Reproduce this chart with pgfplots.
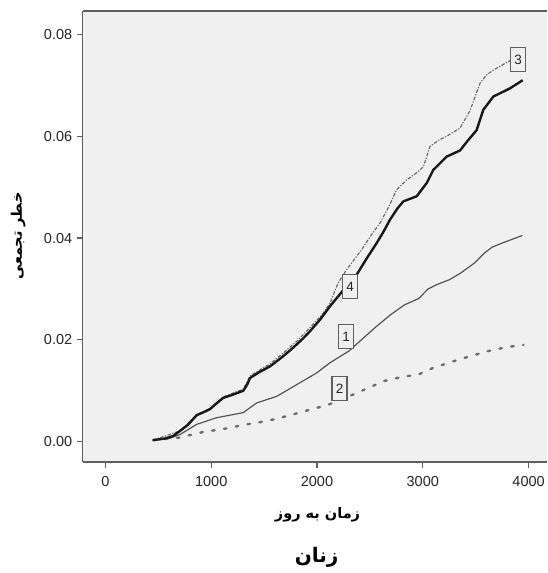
\documentclass[border=0pt]{standalone}
\usepackage{fontspec}
\setmainfont{Liberation Sans}
\newfontfamily\arabicfont[Script=Arabic]{DejaVu Sans}
\TeXXeTstate=1
\usepackage{pgfplots}
\pgfplotsset{compat=1.18}
\definecolor{bg}{RGB}{240,240,240}
\definecolor{frame}{RGB}{95,95,95}
\definecolor{c1}{RGB}{85,85,85}
\definecolor{c2}{RGB}{110,110,110}
\definecolor{c3}{RGB}{100,100,100}
\definecolor{c4}{RGB}{25,25,25}
\begin{document}
\begin{tikzpicture}
\path[use as bounding box] (-82.7pt,-111pt) rectangle (464.3pt,462pt);
\begin{axis}[
  at={(0,0)}, anchor=south west,
  scale only axis, width=464.3pt, height=451pt,
  xmin=-214.6, xmax=4174, ymin=-0.0040, ymax=0.0846,
  axis lines*=left,
  axis line style={frame, line width=1.5pt, -},
  axis background/.style={fill=bg},
  xtick={0,1000,2000,3000,4000},
  ytick={0,0.02,0.04,0.06,0.08},
  tick align=outside, major tick length=6pt,
  tick style={frame, line width=1.3pt},
  scaled y ticks=false,
  /pgf/number format/assume math mode=true,
  /pgf/number format/set thousands separator={},
  ticklabel style={font=\fontsize{14.5}{14.5}\selectfont, text=black!85},
  yticklabel style={/pgf/number format/fixed, /pgf/number format/fixed zerofill, /pgf/number format/precision=2, xshift=-1pt},
  xticklabel style={yshift=-5pt},
  xlabel={\arabicfont\bfseries\beginR زمان به روز\endR},
  xlabel style={at={(axis description cs:0.5057,0)}, anchor=center, yshift=-53pt, font=\fontsize{14.5}{14.5}\selectfont},
  ylabel={\arabicfont\bfseries\beginR خطر تجمعی\endR},
  ylabel style={at={(axis description cs:-0.1393,0.501)}, anchor=center, font=\fontsize{14.5}{14.5}\selectfont},
  clip=false,
]
\draw[frame, line width=1.5pt] (rel axis cs:0,1) -- (rel axis cs:1,1);
% curve 2 (dotted)
\addplot[c2, line width=2.4pt, dash pattern=on 2.5pt off 9.5pt, line cap=round] coordinates {
(450,0.0003) (700,0.0008) (925,0.0019) (1052,0.0023) (1178,0.0027) (1303,0.0033)
(1430,0.0037) (1509,0.0040) (1619,0.0045) (1745,0.0052) (1855,0.0058) (1965,0.0065)
(2076,0.0070) (2302,0.0089) (2480,0.0105) (2631,0.0119) (2800,0.0127) (2961,0.0132)
(3100,0.0145) (3291,0.0158) (3450,0.0168) (3621,0.0178) (3800,0.0186) (3951,0.0190)
};
% curve 1 (thin solid)
\addplot[c1, line width=1.2pt] coordinates {
(450,0.0003) (600,0.0006) (705,0.0014) (863,0.0034) (1052,0.0047) (1303,0.0057)
(1430,0.0076) (1619,0.0089) (1808,0.0112) (1997,0.0135) (2123,0.0155) (2302,0.0178)
(2430,0.0202) (2565,0.0227) (2700,0.0250) (2829,0.0269) (2961,0.0281) (3050,0.0300)
(3127,0.0308) (3250,0.0318) (3357,0.0331) (3489,0.0351) (3580,0.0370) (3654,0.0382)
(3786,0.0393) (3941,0.0405)
};
% curve 3 (dash-dot)
\addplot[c3, line width=1.1pt, dash pattern=on 3.5pt off 1.5pt on 1.2pt off 1.5pt] coordinates {
(450,0.0003) (705,0.0021) (863,0.0053) (989,0.0065) (1114,0.0088) (1303,0.0103)
(1367,0.0129) (1556,0.0153) (1681,0.0174) (1808,0.0197) (1934,0.0224) (2050,0.0250)
(2123,0.0272) (2200,0.0312) (2280,0.0338) (2422,0.0377) (2510,0.0405) (2595,0.0429)
(2680,0.0462) (2753,0.0495) (2848,0.0514) (2940,0.0528) (3006,0.0540) (3068,0.0580)
(3150,0.0592) (3226,0.0600) (3352,0.0616) (3446,0.0650) (3541,0.0704) (3600,0.0720)
(3667,0.0730) (3750,0.0740) (3840,0.0750)
};
% curve 4 (thick solid)
\addplot[c4, line width=2.4pt, line join=round] coordinates {
(450,0.0003) (560,0.0006) (640,0.0011) (705,0.0021) (780,0.0033) (863,0.0052)
(930,0.0058) (989,0.0064) (1050,0.0075) (1114,0.0086) (1200,0.0092) (1303,0.0100)
(1340,0.0112) (1367,0.0125) (1450,0.0136) (1556,0.0148) (1620,0.0158) (1681,0.0168)
(1750,0.0180) (1808,0.0191) (1870,0.0203) (1934,0.0217) (2030,0.0240) (2123,0.0266)
(2250,0.0298) (2375,0.0328) (2470,0.0360) (2564,0.0390) (2630,0.0413) (2690,0.0436)
(2760,0.0458) (2816,0.0472) (2942,0.0482) (3037,0.0508) (3100,0.0534) (3226,0.0560)
(3352,0.0572) (3420,0.0590) (3509,0.0612) (3572,0.0652) (3667,0.0678) (3824,0.0694)
(3944,0.0710)
};
\tikzset{lbl/.style={draw=frame, fill=bg, line width=1.2pt, minimum width=15pt, minimum height=24pt, inner sep=0pt, font=\fontsize{13.5}{13.5}\selectfont, text=black!85}}
\node[lbl] at (axis cs:3900,0.0750) {3};
\node[lbl] at (axis cs:2314,0.0305) {4};
\node[lbl] at (axis cs:2276,0.0206) {1};
\node[lbl] at (axis cs:2213,0.0104) {2};
\node[font=\arabicfont\bfseries\fontsize{20}{20}\selectfont] at (axis description cs:0.5037,0) [yshift=-95pt] {\beginR زنان\endR};
\end{axis}
\end{tikzpicture}
\end{document}
